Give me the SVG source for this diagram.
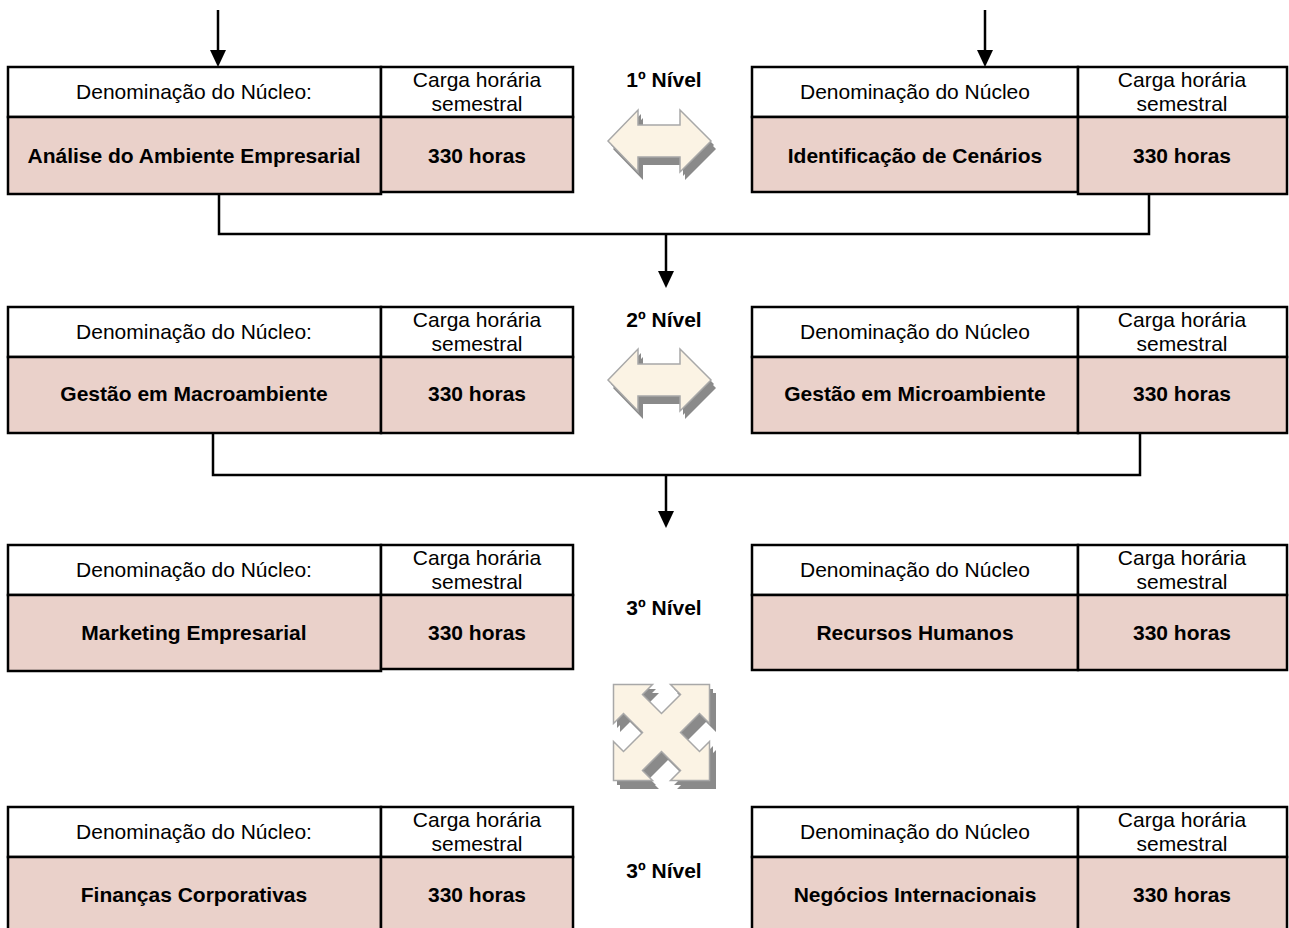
<svg xmlns="http://www.w3.org/2000/svg" width="1289" height="928" viewBox="0 0 1289 928">
<style>
.hd{fill:#ffffff;stroke:#000;stroke-width:2.5}
.pk{fill:#EAD1CA;stroke:#000;stroke-width:2.5}
.t{font-family:"Liberation Sans",Arial,sans-serif;font-size:21px;fill:#000;text-anchor:middle}
.b{font-family:"Liberation Sans",Arial,sans-serif;font-size:21px;font-weight:bold;fill:#000;text-anchor:middle}
.ln{fill:none;stroke:#000;stroke-width:2.5}
.cr{fill:#FBF3E4;stroke:#A8A8A8;stroke-width:1.5;stroke-linejoin:miter}
.sh{fill:#8A8A8A;stroke:none}
</style>
<defs>
<path id="dbl" d="M0,0 L30,-31 L30,-16 L72,-16 L72,-31 L103,0 L72,31 L72,16 L30,16 L30,31 Z"/>
<path id="x4" d="M-48,-48 L-9,-48 L-19,-38 L0,-19 L19,-38 L9,-48 L48,-48 L48,-9 L38,-19 L19,0 L38,19 L48,9 L48,48 L9,48 L19,38 L0,19 L-19,38 L-9,48 L-48,48 L-48,9 L-38,19 L-19,0 L-38,-19 L-48,-9 Z"/>
</defs>

<g id="connectors">
<line class="ln" x1="218" y1="10" x2="218" y2="50"/>
<path d="M210,50 L226,50 L218,67 Z"/>
<line class="ln" x1="985" y1="10" x2="985" y2="50"/>
<path d="M977,50 L993,50 L985,67 Z"/>
<polyline class="ln" points="219,194 219,234 1149,234 1149,194"/>
<line class="ln" x1="666" y1="234" x2="666" y2="271"/>
<path d="M658,271 L674,271 L666,288 Z"/>
<polyline class="ln" points="213,433 213,475 1140,475 1140,433"/>
<line class="ln" x1="666" y1="475" x2="666" y2="511"/>
<path d="M658,511 L674,511 L666,528 Z"/>
</g>

<g id="node-r1-left">
<rect class="hd" x="8" y="67" width="373" height="50"/>
<rect class="hd" x="381" y="67" width="192" height="50"/>
<rect class="pk" x="8" y="117" width="373" height="77"/>
<rect class="pk" x="381" y="117" width="192" height="75"/>
<text class="t" x="194" y="99">Denominação do Núcleo:</text>
<text class="t" x="477" y="87">Carga horária</text>
<text class="t" x="477" y="111">semestral</text>
<text class="b" x="194" y="163">Análise do Ambiente Empresarial</text>
<text class="b" x="477" y="163">330 horas</text>
</g>
<g id="node-r1-right">
<rect class="hd" x="752" y="67" width="326" height="50"/>
<rect class="hd" x="1078" y="67" width="209" height="50"/>
<rect class="pk" x="752" y="117" width="326" height="75"/>
<rect class="pk" x="1078" y="117" width="209" height="77"/>
<text class="t" x="915" y="99">Denominação do Núcleo</text>
<text class="t" x="1182" y="87">Carga horária</text>
<text class="t" x="1182" y="111">semestral</text>
<text class="b" x="915" y="163">Identificação de Cenários</text>
<text class="b" x="1182" y="163">330 horas</text>
</g>
<g id="level1">
<text class="b" x="664" y="87">1º Nível</text>
<use href="#dbl" class="sh" transform="translate(613,149)"/>
<use href="#dbl" class="sh" transform="translate(611,145)"/>
<use href="#dbl" class="cr" transform="translate(608,141)"/>
</g>

<g id="node-r2-left">
<rect class="hd" x="8" y="307" width="373" height="50"/>
<rect class="hd" x="381" y="307" width="192" height="50"/>
<rect class="pk" x="8" y="357" width="373" height="76"/>
<rect class="pk" x="381" y="357" width="192" height="76"/>
<text class="t" x="194" y="339">Denominação do Núcleo:</text>
<text class="t" x="477" y="327">Carga horária</text>
<text class="t" x="477" y="351">semestral</text>
<text class="b" x="194" y="401">Gestão em Macroambiente</text>
<text class="b" x="477" y="401">330 horas</text>
</g>
<g id="node-r2-right">
<rect class="hd" x="752" y="307" width="326" height="50"/>
<rect class="hd" x="1078" y="307" width="209" height="50"/>
<rect class="pk" x="752" y="357" width="326" height="76"/>
<rect class="pk" x="1078" y="357" width="209" height="76"/>
<text class="t" x="915" y="339">Denominação do Núcleo</text>
<text class="t" x="1182" y="327">Carga horária</text>
<text class="t" x="1182" y="351">semestral</text>
<text class="b" x="915" y="401">Gestão em Microambiente</text>
<text class="b" x="1182" y="401">330 horas</text>
</g>
<g id="level2">
<text class="b" x="664" y="327">2º Nível</text>
<use href="#dbl" class="sh" transform="translate(613,388)"/>
<use href="#dbl" class="sh" transform="translate(611,384)"/>
<use href="#dbl" class="cr" transform="translate(608,380)"/>
</g>

<g id="node-r3-left">
<rect class="hd" x="8" y="545" width="373" height="50"/>
<rect class="hd" x="381" y="545" width="192" height="50"/>
<rect class="pk" x="8" y="595" width="373" height="76"/>
<rect class="pk" x="381" y="595" width="192" height="74"/>
<text class="t" x="194" y="577">Denominação do Núcleo:</text>
<text class="t" x="477" y="565">Carga horária</text>
<text class="t" x="477" y="589">semestral</text>
<text class="b" x="194" y="640">Marketing Empresarial</text>
<text class="b" x="477" y="640">330 horas</text>
</g>
<g id="node-r3-right">
<rect class="hd" x="752" y="545" width="326" height="50"/>
<rect class="hd" x="1078" y="545" width="209" height="50"/>
<rect class="pk" x="752" y="595" width="326" height="75"/>
<rect class="pk" x="1078" y="595" width="209" height="75"/>
<text class="t" x="915" y="577">Denominação do Núcleo</text>
<text class="t" x="1182" y="565">Carga horária</text>
<text class="t" x="1182" y="589">semestral</text>
<text class="b" x="915" y="640">Recursos Humanos</text>
<text class="b" x="1182" y="640">330 horas</text>
</g>
<g id="level3a">
<text class="b" x="664" y="615">3º Nível</text>
</g>
<g id="cross">
<use href="#x4" class="sh" transform="translate(668,741)"/>
<use href="#x4" class="sh" transform="translate(665,737)"/>
<use href="#x4" class="cr" transform="translate(661.5,732.5)"/>
</g>

<g id="node-r4-left">
<rect class="hd" x="8" y="807" width="373" height="50"/>
<rect class="hd" x="381" y="807" width="192" height="50"/>
<rect class="pk" x="8" y="857" width="373" height="80"/>
<rect class="pk" x="381" y="857" width="192" height="80"/>
<text class="t" x="194" y="839">Denominação do Núcleo:</text>
<text class="t" x="477" y="827">Carga horária</text>
<text class="t" x="477" y="851">semestral</text>
<text class="b" x="194" y="902">Finanças Corporativas</text>
<text class="b" x="477" y="902">330 horas</text>
</g>
<g id="node-r4-right">
<rect class="hd" x="752" y="807" width="326" height="50"/>
<rect class="hd" x="1078" y="807" width="209" height="50"/>
<rect class="pk" x="752" y="857" width="326" height="80"/>
<rect class="pk" x="1078" y="857" width="209" height="80"/>
<text class="t" x="915" y="839">Denominação do Núcleo</text>
<text class="t" x="1182" y="827">Carga horária</text>
<text class="t" x="1182" y="851">semestral</text>
<text class="b" x="915" y="902">Negócios Internacionais</text>
<text class="b" x="1182" y="902">330 horas</text>
</g>
<g id="level3b">
<text class="b" x="664" y="878">3º Nível</text>
</g>
</svg>
